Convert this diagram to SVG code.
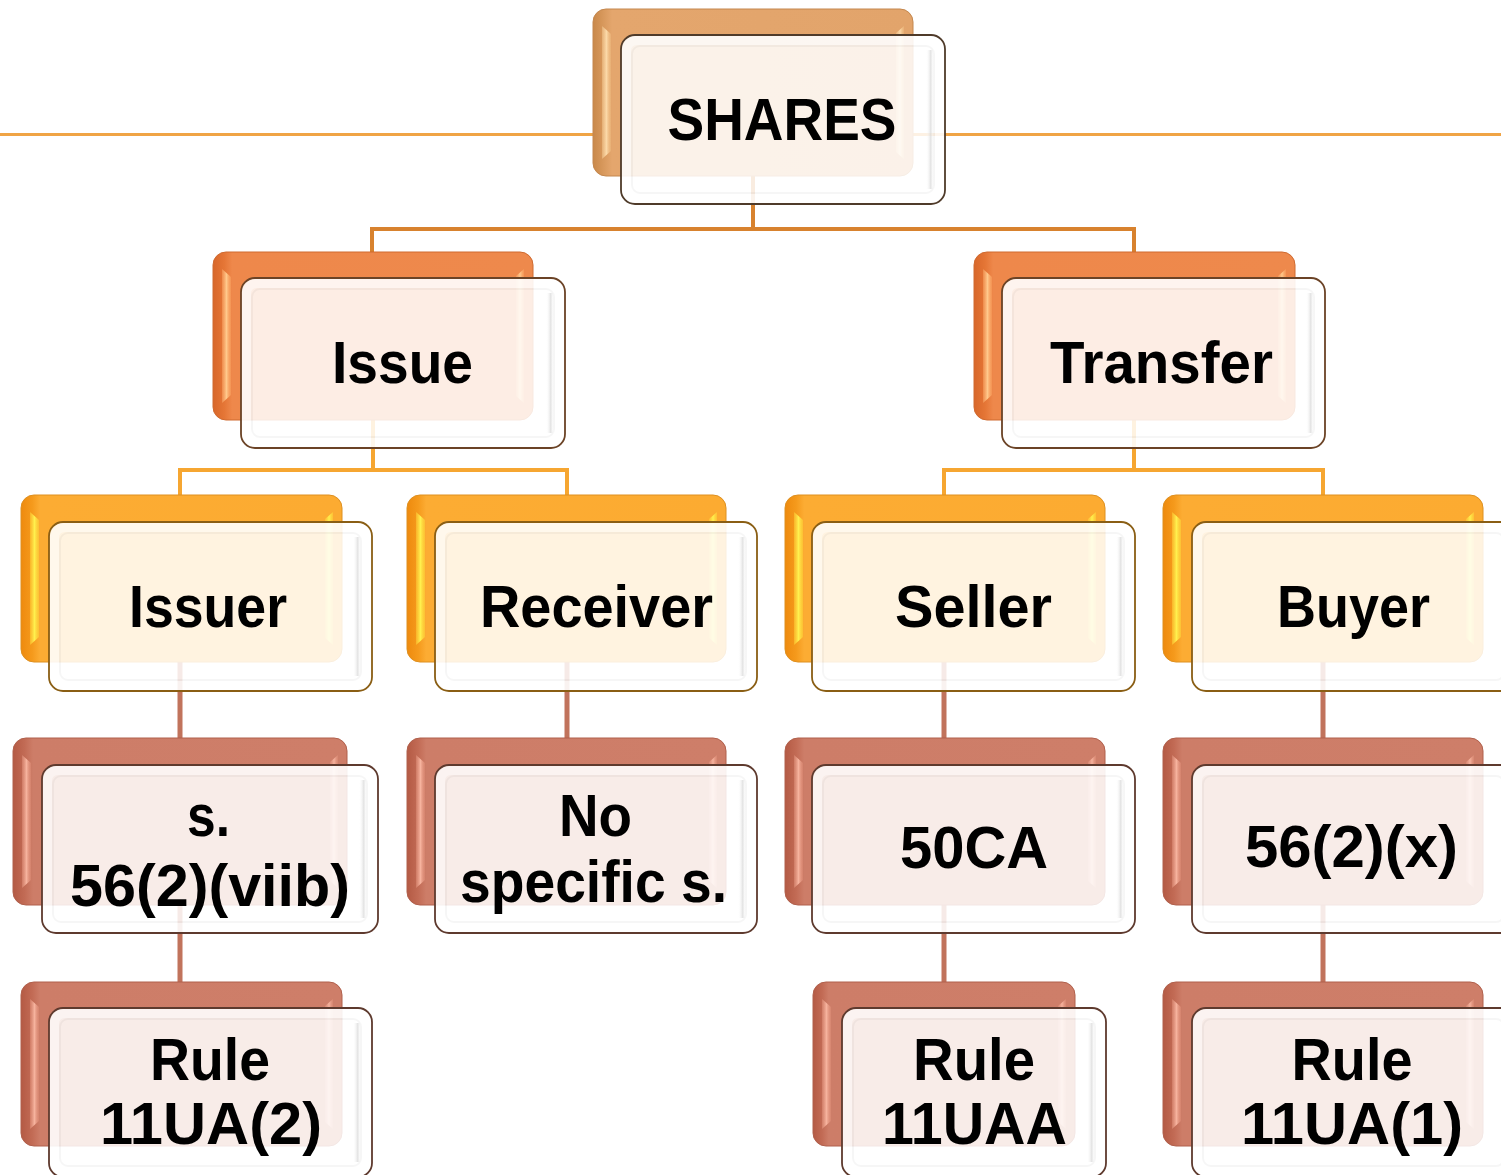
<svg xmlns="http://www.w3.org/2000/svg" width="1501" height="1175" viewBox="0 0 1501 1175">
  <defs>
    <!-- back plate fills: darker rim at the left, flat body -->
    <linearGradient id="gb1" x1="0" y1="0" x2="1" y2="0">
      <stop offset="0" stop-color="#C98849"/>
      <stop offset="0.035" stop-color="#D99A5E"/>
      <stop offset="0.06" stop-color="#E4A66D"/>
      <stop offset="1" stop-color="#E2A46B"/>
    </linearGradient>
    <linearGradient id="gb2" x1="0" y1="0" x2="1" y2="0">
      <stop offset="0" stop-color="#D8672A"/>
      <stop offset="0.035" stop-color="#E57636"/>
      <stop offset="0.06" stop-color="#EE884B"/>
      <stop offset="1" stop-color="#EE894C"/>
    </linearGradient>
    <linearGradient id="gb3" x1="0" y1="0" x2="1" y2="0">
      <stop offset="0" stop-color="#EE8A0E"/>
      <stop offset="0.035" stop-color="#F59A1C"/>
      <stop offset="0.06" stop-color="#FCAC33"/>
      <stop offset="1" stop-color="#FCAB31"/>
    </linearGradient>
    <linearGradient id="gb4" x1="0" y1="0" x2="1" y2="0">
      <stop offset="0" stop-color="#B45A44"/>
      <stop offset="0.035" stop-color="#C26B55"/>
      <stop offset="0.06" stop-color="#CD7D68"/>
      <stop offset="1" stop-color="#CE7E69"/>
    </linearGradient>
    <!-- bevel highlight strips -->
    <linearGradient id="hl1" x1="0" y1="0" x2="1" y2="0">
      <stop offset="0" stop-color="#F9D29C" stop-opacity="0.4"/>
      <stop offset="0.5" stop-color="#FBD9A8"/>
      <stop offset="1" stop-color="#F2C084" stop-opacity="0.4"/>
    </linearGradient>
    <linearGradient id="hl2" x1="0" y1="0" x2="1" y2="0">
      <stop offset="0" stop-color="#FFB070" stop-opacity="0.4"/>
      <stop offset="0.5" stop-color="#FFC98C"/>
      <stop offset="1" stop-color="#FFAA66" stop-opacity="0.4"/>
    </linearGradient>
    <linearGradient id="hl3" x1="0" y1="0" x2="1" y2="0">
      <stop offset="0" stop-color="#FFD23A" stop-opacity="0.5"/>
      <stop offset="0.5" stop-color="#FFF04E"/>
      <stop offset="1" stop-color="#FFD83A" stop-opacity="0.5"/>
    </linearGradient>
    <linearGradient id="hl4" x1="0" y1="0" x2="1" y2="0">
      <stop offset="0" stop-color="#E89A84" stop-opacity="0.4"/>
      <stop offset="0.5" stop-color="#F6B39E"/>
      <stop offset="1" stop-color="#E4937C" stop-opacity="0.4"/>
    </linearGradient>
    <!-- grey bevel on the right edge of the front cards -->
    <linearGradient id="gr" x1="0" y1="0" x2="1" y2="0">
      <stop offset="0" stop-color="#FFFFFF" stop-opacity="0"/>
      <stop offset="0.6" stop-color="#D2D2D2" stop-opacity="0.65"/>
      <stop offset="1" stop-color="#FFFFFF" stop-opacity="0"/>
    </linearGradient>
  </defs>

  <style>
    .b1 { fill: url(#gb1); stroke: #C4874E; stroke-width: 1; }
    .b2 { fill: url(#gb2); stroke: #CF6A30; stroke-width: 1; }
    .b3 { fill: url(#gb3); stroke: #DE9020; stroke-width: 1; }
    .b4 { fill: url(#gb4); stroke: #B0604C; stroke-width: 1; }
    .h1 { fill: url(#hl1); }
    .h2 { fill: url(#hl2); }
    .h3 { fill: url(#hl3); }
    .h4 { fill: url(#hl4); }
    .f  { fill: #FFFFFF; fill-opacity: 0.85; stroke-width: 1.8; }
    .s1 { stroke: #4F3B2A; }
    .s2 { stroke: #6B4326; }
    .s3 { stroke: #8A5E14; }
    .s4 { stroke: #5E3A2E; }
    .ring { fill: none; stroke: #FFFFFF; stroke-width: 9; stroke-opacity: 0.4; }
    .edge { fill: none; stroke: #000000; stroke-opacity: 0.035; stroke-width: 2; }
    .gr { fill: url(#gr); }
    .t  { font-family: "Liberation Sans", Arial, sans-serif; font-weight: bold; font-size: 60px; fill: #000000; text-anchor: middle; }
    .c1 { fill: none; stroke: #D8822E; stroke-width: 4; }
    .c2 { fill: none; stroke: #F6A631; stroke-width: 4; }
    .c3 { fill: none; stroke: #C1735C; stroke-width: 5; }
    .rule { fill: none; stroke: #F0A445; stroke-width: 3; }
  </style>

  <rect x="0" y="0" width="1501" height="1175" fill="#FFFFFF"/>

  <!-- connectors -->
  <g id="connectors">
    <path class="rule" d="M0 134.5 H1501"/>
    <path class="c1" d="M753 176 V229 M370 229 H1136 M372 229 V252 M1134 229 V252"/>
    <path class="c2" d="M373 420 V470 M178 470 H569 M180 470 V495 M567 470 V495"/>
    <path class="c2" d="M1134 420 V470 M942 470 H1325 M944 470 V495 M1323 470 V495"/>
    <path class="c3" d="M180 662 V738 M180 905 V982 M567 662 V738 M944 662 V738 M944 905 V982 M1323 662 V738 M1323 905 V982"/>
  </g>

  <!-- SHARES -->
  <g id="node-shares">
    <rect class="b1" x="593" y="9" width="320" height="167" rx="13"/>
    <path class="h1" d="M602 26 L611 34 V151 L602 159 Z"/>
    <path class="h1" d="M904 26 L896 33 V152 L904 159 Z"/>
    <rect class="f s1" x="621" y="35" width="324" height="169" rx="14"/>
    <rect class="ring" x="626.5" y="40.5" width="313" height="158" rx="10"/>
    <rect class="edge" x="632" y="46" width="302" height="147" rx="8"/>
    <rect class="gr" x="926" y="50" width="8" height="139"/>
    <text class="t" x="782" y="140" textLength="229" lengthAdjust="spacingAndGlyphs">SHARES</text>
  </g>

  <!-- Issue -->
  <g id="node-issue">
    <rect class="b2" x="213" y="252" width="320" height="168" rx="13"/>
    <path class="h2" d="M222 269 L231 277 V395 L222 403 Z"/>
    <path class="h2" d="M524 269 L516 276 V396 L524 403 Z"/>
    <rect class="f s2" x="241" y="278" width="324" height="170" rx="14"/>
    <rect class="ring" x="246.5" y="283.5" width="313" height="159" rx="10"/>
    <rect class="edge" x="252" y="289" width="302" height="148" rx="8"/>
    <rect class="gr" x="546" y="293" width="8" height="140"/>
    <text class="t" x="402.5" y="383" textLength="141" lengthAdjust="spacingAndGlyphs">Issue</text>
  </g>

  <!-- Transfer -->
  <g id="node-transfer">
    <rect class="b2" x="974" y="252" width="321" height="168" rx="13"/>
    <path class="h2" d="M983 269 L992 277 V395 L983 403 Z"/>
    <path class="h2" d="M1286 269 L1278 276 V396 L1286 403 Z"/>
    <rect class="f s2" x="1002" y="278" width="323" height="170" rx="14"/>
    <rect class="ring" x="1007.5" y="283.5" width="312" height="159" rx="10"/>
    <rect class="edge" x="1013" y="289" width="301" height="148" rx="8"/>
    <rect class="gr" x="1306" y="293" width="8" height="140"/>
    <text class="t" x="1161.5" y="383" textLength="223" lengthAdjust="spacingAndGlyphs">Transfer</text>
  </g>

  <!-- Issuer -->
  <g id="node-issuer">
    <rect class="b3" x="21" y="495" width="321" height="167" rx="13"/>
    <path class="h3" d="M30 512 L39 520 V637 L30 645 Z"/>
    <path class="h3" d="M333 512 L325 519 V638 L333 645 Z"/>
    <rect class="f s3" x="49" y="522" width="323" height="169" rx="14"/>
    <rect class="ring" x="54.5" y="527.5" width="312" height="158" rx="10"/>
    <rect class="edge" x="60" y="533" width="301" height="147" rx="8"/>
    <rect class="gr" x="353" y="537" width="8" height="139"/>
    <text class="t" x="208" y="627" textLength="158" lengthAdjust="spacingAndGlyphs">Issuer</text>
  </g>

  <!-- Receiver -->
  <g id="node-receiver">
    <rect class="b3" x="407" y="495" width="319" height="167" rx="13"/>
    <path class="h3" d="M416 512 L425 520 V637 L416 645 Z"/>
    <path class="h3" d="M717 512 L709 519 V638 L717 645 Z"/>
    <rect class="f s3" x="435" y="522" width="322" height="169" rx="14"/>
    <rect class="ring" x="440.5" y="527.5" width="311" height="158" rx="10"/>
    <rect class="edge" x="446" y="533" width="300" height="147" rx="8"/>
    <rect class="gr" x="738" y="537" width="8" height="139"/>
    <text class="t" x="596.5" y="627" textLength="233" lengthAdjust="spacingAndGlyphs">Receiver</text>
  </g>

  <!-- Seller -->
  <g id="node-seller">
    <rect class="b3" x="785" y="495" width="320" height="167" rx="13"/>
    <path class="h3" d="M794 512 L803 520 V637 L794 645 Z"/>
    <path class="h3" d="M1096 512 L1088 519 V638 L1096 645 Z"/>
    <rect class="f s3" x="812" y="522" width="323" height="169" rx="14"/>
    <rect class="ring" x="817.5" y="527.5" width="312" height="158" rx="10"/>
    <rect class="edge" x="823" y="533" width="301" height="147" rx="8"/>
    <rect class="gr" x="1116" y="537" width="8" height="139"/>
    <text class="t" x="973.5" y="627" textLength="157" lengthAdjust="spacingAndGlyphs">Seller</text>
  </g>

  <!-- Buyer -->
  <g id="node-buyer">
    <rect class="b3" x="1163" y="495" width="320" height="167" rx="13"/>
    <path class="h3" d="M1172 512 L1181 520 V637 L1172 645 Z"/>
    <path class="h3" d="M1474 512 L1466 519 V638 L1474 645 Z"/>
    <rect class="f s3" x="1192" y="522" width="323" height="169" rx="14"/>
    <rect class="ring" x="1197.5" y="527.5" width="312" height="158" rx="10"/>
    <rect class="edge" x="1203" y="533" width="301" height="147" rx="8"/>
    <text class="t" x="1353.5" y="627" textLength="153" lengthAdjust="spacingAndGlyphs">Buyer</text>
  </g>

  <!-- s. 56(2)(viib) -->
  <g id="node-s56-viib">
    <rect class="b4" x="13" y="738" width="334" height="167" rx="13"/>
    <path class="h4" d="M22 755 L31 763 V880 L22 888 Z"/>
    <path class="h4" d="M338 755 L330 762 V881 L338 888 Z"/>
    <rect class="f s4" x="42" y="765" width="336" height="168" rx="14"/>
    <rect class="ring" x="47.5" y="770.5" width="325" height="157" rx="10"/>
    <rect class="edge" x="53" y="776" width="314" height="146" rx="8"/>
    <rect class="gr" x="359" y="780" width="8" height="138"/>
    <text class="t" x="208.5" y="836" textLength="43" lengthAdjust="spacingAndGlyphs">s.</text>
    <text class="t" x="210" y="906" textLength="280" lengthAdjust="spacingAndGlyphs">56(2)(viib)</text>
  </g>

  <!-- No specific s. -->
  <g id="node-no-specific">
    <rect class="b4" x="407" y="738" width="319" height="167" rx="13"/>
    <path class="h4" d="M416 755 L425 763 V880 L416 888 Z"/>
    <path class="h4" d="M717 755 L709 762 V881 L717 888 Z"/>
    <rect class="f s4" x="435" y="765" width="322" height="168" rx="14"/>
    <rect class="ring" x="440.5" y="770.5" width="311" height="157" rx="10"/>
    <rect class="edge" x="446" y="776" width="300" height="146" rx="8"/>
    <rect class="gr" x="738" y="780" width="8" height="138"/>
    <text class="t" x="595.5" y="836" textLength="73" lengthAdjust="spacingAndGlyphs">No</text>
    <text class="t" x="593.5" y="902" textLength="267" lengthAdjust="spacingAndGlyphs">specific s.</text>
  </g>

  <!-- 50CA -->
  <g id="node-50ca">
    <rect class="b4" x="785" y="738" width="320" height="167" rx="13"/>
    <path class="h4" d="M794 755 L803 763 V880 L794 888 Z"/>
    <path class="h4" d="M1096 755 L1088 762 V881 L1096 888 Z"/>
    <rect class="f s4" x="812" y="765" width="323" height="168" rx="14"/>
    <rect class="ring" x="817.5" y="770.5" width="312" height="157" rx="10"/>
    <rect class="edge" x="823" y="776" width="301" height="146" rx="8"/>
    <rect class="gr" x="1116" y="780" width="8" height="138"/>
    <text class="t" x="974" y="868" textLength="148" lengthAdjust="spacingAndGlyphs">50CA</text>
  </g>

  <!-- 56(2)(x) -->
  <g id="node-56-x">
    <rect class="b4" x="1163" y="738" width="320" height="167" rx="13"/>
    <path class="h4" d="M1172 755 L1181 763 V880 L1172 888 Z"/>
    <path class="h4" d="M1474 755 L1466 762 V881 L1474 888 Z"/>
    <rect class="f s4" x="1192" y="765" width="323" height="168" rx="14"/>
    <rect class="ring" x="1197.5" y="770.5" width="312" height="157" rx="10"/>
    <rect class="edge" x="1203" y="776" width="301" height="146" rx="8"/>
    <text class="t" x="1351.5" y="867" textLength="213" lengthAdjust="spacingAndGlyphs">56(2)(x)</text>
  </g>

  <!-- Rule 11UA(2) -->
  <g id="node-rule-11ua2">
    <rect class="b4" x="21" y="982" width="321" height="164" rx="13"/>
    <path class="h4" d="M30 999 L39 1007 V1121 L30 1129 Z"/>
    <path class="h4" d="M333 999 L325 1006 V1122 L333 1129 Z"/>
    <rect class="f s4" x="49" y="1008" width="323" height="169" rx="14"/>
    <rect class="ring" x="54.5" y="1013.5" width="312" height="158" rx="10"/>
    <rect class="edge" x="60" y="1019" width="301" height="147" rx="8"/>
    <rect class="gr" x="353" y="1023" width="8" height="139"/>
    <text class="t" x="210" y="1080" textLength="120" lengthAdjust="spacingAndGlyphs">Rule</text>
    <text class="t" x="211" y="1144" textLength="222" lengthAdjust="spacingAndGlyphs">11UA(2)</text>
  </g>

  <!-- Rule 11UAA -->
  <g id="node-rule-11uaa">
    <rect class="b4" x="813" y="982" width="262" height="164" rx="13"/>
    <path class="h4" d="M822 999 L831 1007 V1121 L822 1129 Z"/>
    <path class="h4" d="M1066 999 L1058 1006 V1122 L1066 1129 Z"/>
    <rect class="f s4" x="842" y="1008" width="264" height="169" rx="14"/>
    <rect class="ring" x="847.5" y="1013.5" width="253" height="158" rx="10"/>
    <rect class="edge" x="853" y="1019" width="242" height="147" rx="8"/>
    <rect class="gr" x="1087" y="1023" width="8" height="139"/>
    <text class="t" x="974" y="1080" textLength="122" lengthAdjust="spacingAndGlyphs">Rule</text>
    <text class="t" x="974.5" y="1144" textLength="185" lengthAdjust="spacingAndGlyphs">11UAA</text>
  </g>

  <!-- Rule 11UA(1) -->
  <g id="node-rule-11ua1">
    <rect class="b4" x="1163" y="982" width="320" height="164" rx="13"/>
    <path class="h4" d="M1172 999 L1181 1007 V1121 L1172 1129 Z"/>
    <path class="h4" d="M1474 999 L1466 1006 V1122 L1474 1129 Z"/>
    <rect class="f s4" x="1192" y="1008" width="323" height="169" rx="14"/>
    <rect class="ring" x="1197.5" y="1013.5" width="312" height="158" rx="10"/>
    <rect class="edge" x="1203" y="1019" width="301" height="147" rx="8"/>
    <text class="t" x="1352" y="1080" textLength="121" lengthAdjust="spacingAndGlyphs">Rule</text>
    <text class="t" x="1352" y="1144" textLength="222" lengthAdjust="spacingAndGlyphs">11UA(1)</text>
  </g>
</svg>
